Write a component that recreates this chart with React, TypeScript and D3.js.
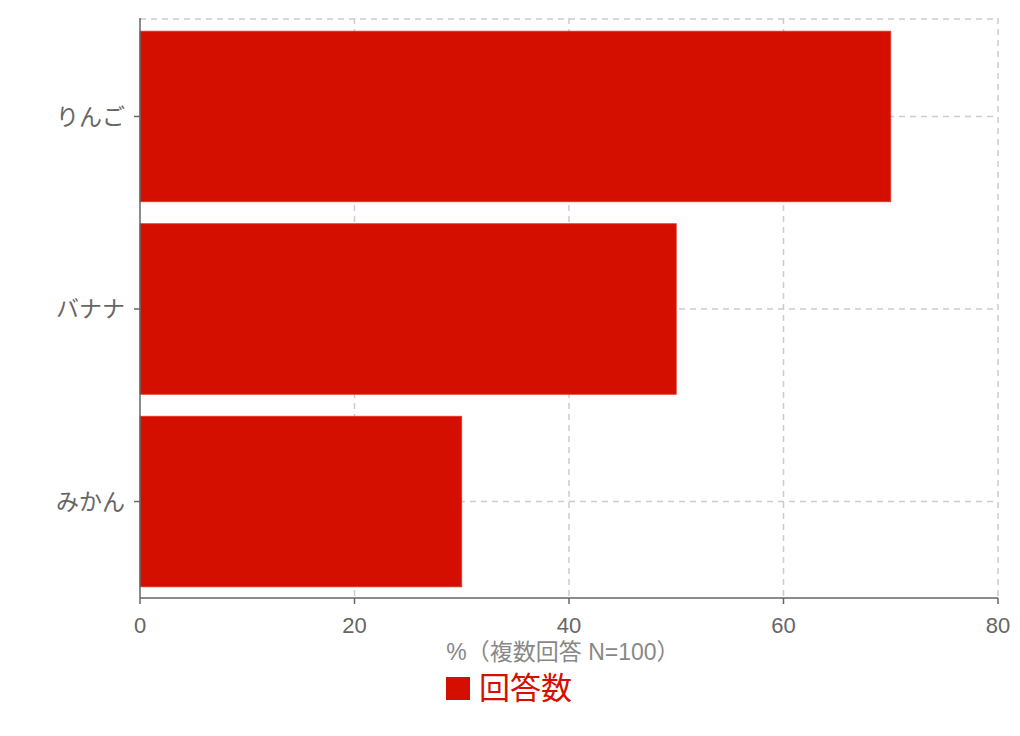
import React from "react";
import { scaleLinear, scaleBand } from "d3";

const categories = ["りんご", "バナナ", "みかん"];
const values = [70, 50, 30];
const xTicks = [0, 20, 40, 60, 80];
const axisTitle = "%（複数回答 N=100）";
const seriesName = "回答数";

const W = 1020;
const H = 736;
const M = { top: 20, right: 22, bottom: 138, left: 140 };
const RED = "#d50f00";
const FONT = "'Liberation Sans', 'Noto Sans CJK JP', sans-serif";

export default function App() {
  const innerW = W - M.left - M.right;
  const innerH = H - M.top - M.bottom;

  const x = scaleLinear().domain([0, 80]).range([0, innerW]);
  const y = scaleBand<string>().domain(categories).range([0, innerH]).paddingInner(0.114).paddingOuter(0.058);
  const yCenter = (c: string) => (y(c) ?? 0) + y.bandwidth() / 2;

  return (
    <svg
      width={W}
      height={H}
      style={{ position: "absolute", left: 0, top: 0, fontFamily: FONT }}
    >
      <g transform={`translate(${M.left},${M.top})`}>
        {/* grid */}
        {xTicks.slice(1).map((t) => (
          <line
            key={`gx${t}`}
            x1={x(t)}
            x2={x(t)}
            y1={-2}
            y2={innerH}
            stroke="#ccc"
            strokeWidth={1.5}
            strokeDasharray="6 5"
          />
        ))}
        <line x1={0} x2={innerW} y1={-1} y2={-1} stroke="#ccc" strokeWidth={1.5} strokeDasharray="6 5" />
        {categories.map((c) => (
          <line
            key={`gy${c}`}
            x1={0}
            x2={innerW}
            y1={yCenter(c)}
            y2={yCenter(c)}
            stroke="#ccc"
            strokeWidth={1.5}
            strokeDasharray="6 5"
          />
        ))}

        {/* bars */}
        {categories.map((c, i) => (
          <rect
            key={c}
            x={x(0)}
            y={y(c)}
            width={x(values[i]) - x(0)}
            height={y.bandwidth()}
            fill={RED}
            stroke="#e0392b"
            strokeWidth={0.8}
          />
        ))}

        {/* y axis */}
        <line x1={0} x2={0} y1={-2} y2={innerH} stroke="#666" strokeWidth={1.5} />
        {categories.map((c) => (
          <g key={`yl${c}`} transform={`translate(0,${yCenter(c)})`}>
            <line x1={-6} x2={0} stroke="#666" strokeWidth={1.5} />
            <text x={-15} dy="0.35em" textAnchor="end" fontSize={23} fill="#666">
              {c}
            </text>
          </g>
        ))}

        {/* x axis */}
        <line x1={0} x2={innerW} y1={innerH} y2={innerH} stroke="#666" strokeWidth={1.5} />
        {xTicks.map((t) => (
          <g key={`xl${t}`} transform={`translate(${x(t)},${innerH})`}>
            <line y1={0} y2={6} stroke="#666" strokeWidth={1.5} />
            <text y={35} textAnchor="middle" fontSize={22} fill="#666">
              {t}
            </text>
          </g>
        ))}
        <text x={innerW / 2 - 6} y={innerH + 62} textAnchor="middle" fontSize={23} fill="#888">
          {axisTitle}
        </text>
      </g>

      {/* legend */}
      <rect x={446} y={677} width={24} height={23} fill={RED} />
      <text x={479} y={699} fontSize={31} fill={RED}>
        {seriesName}
      </text>
    </svg>
  );
}
